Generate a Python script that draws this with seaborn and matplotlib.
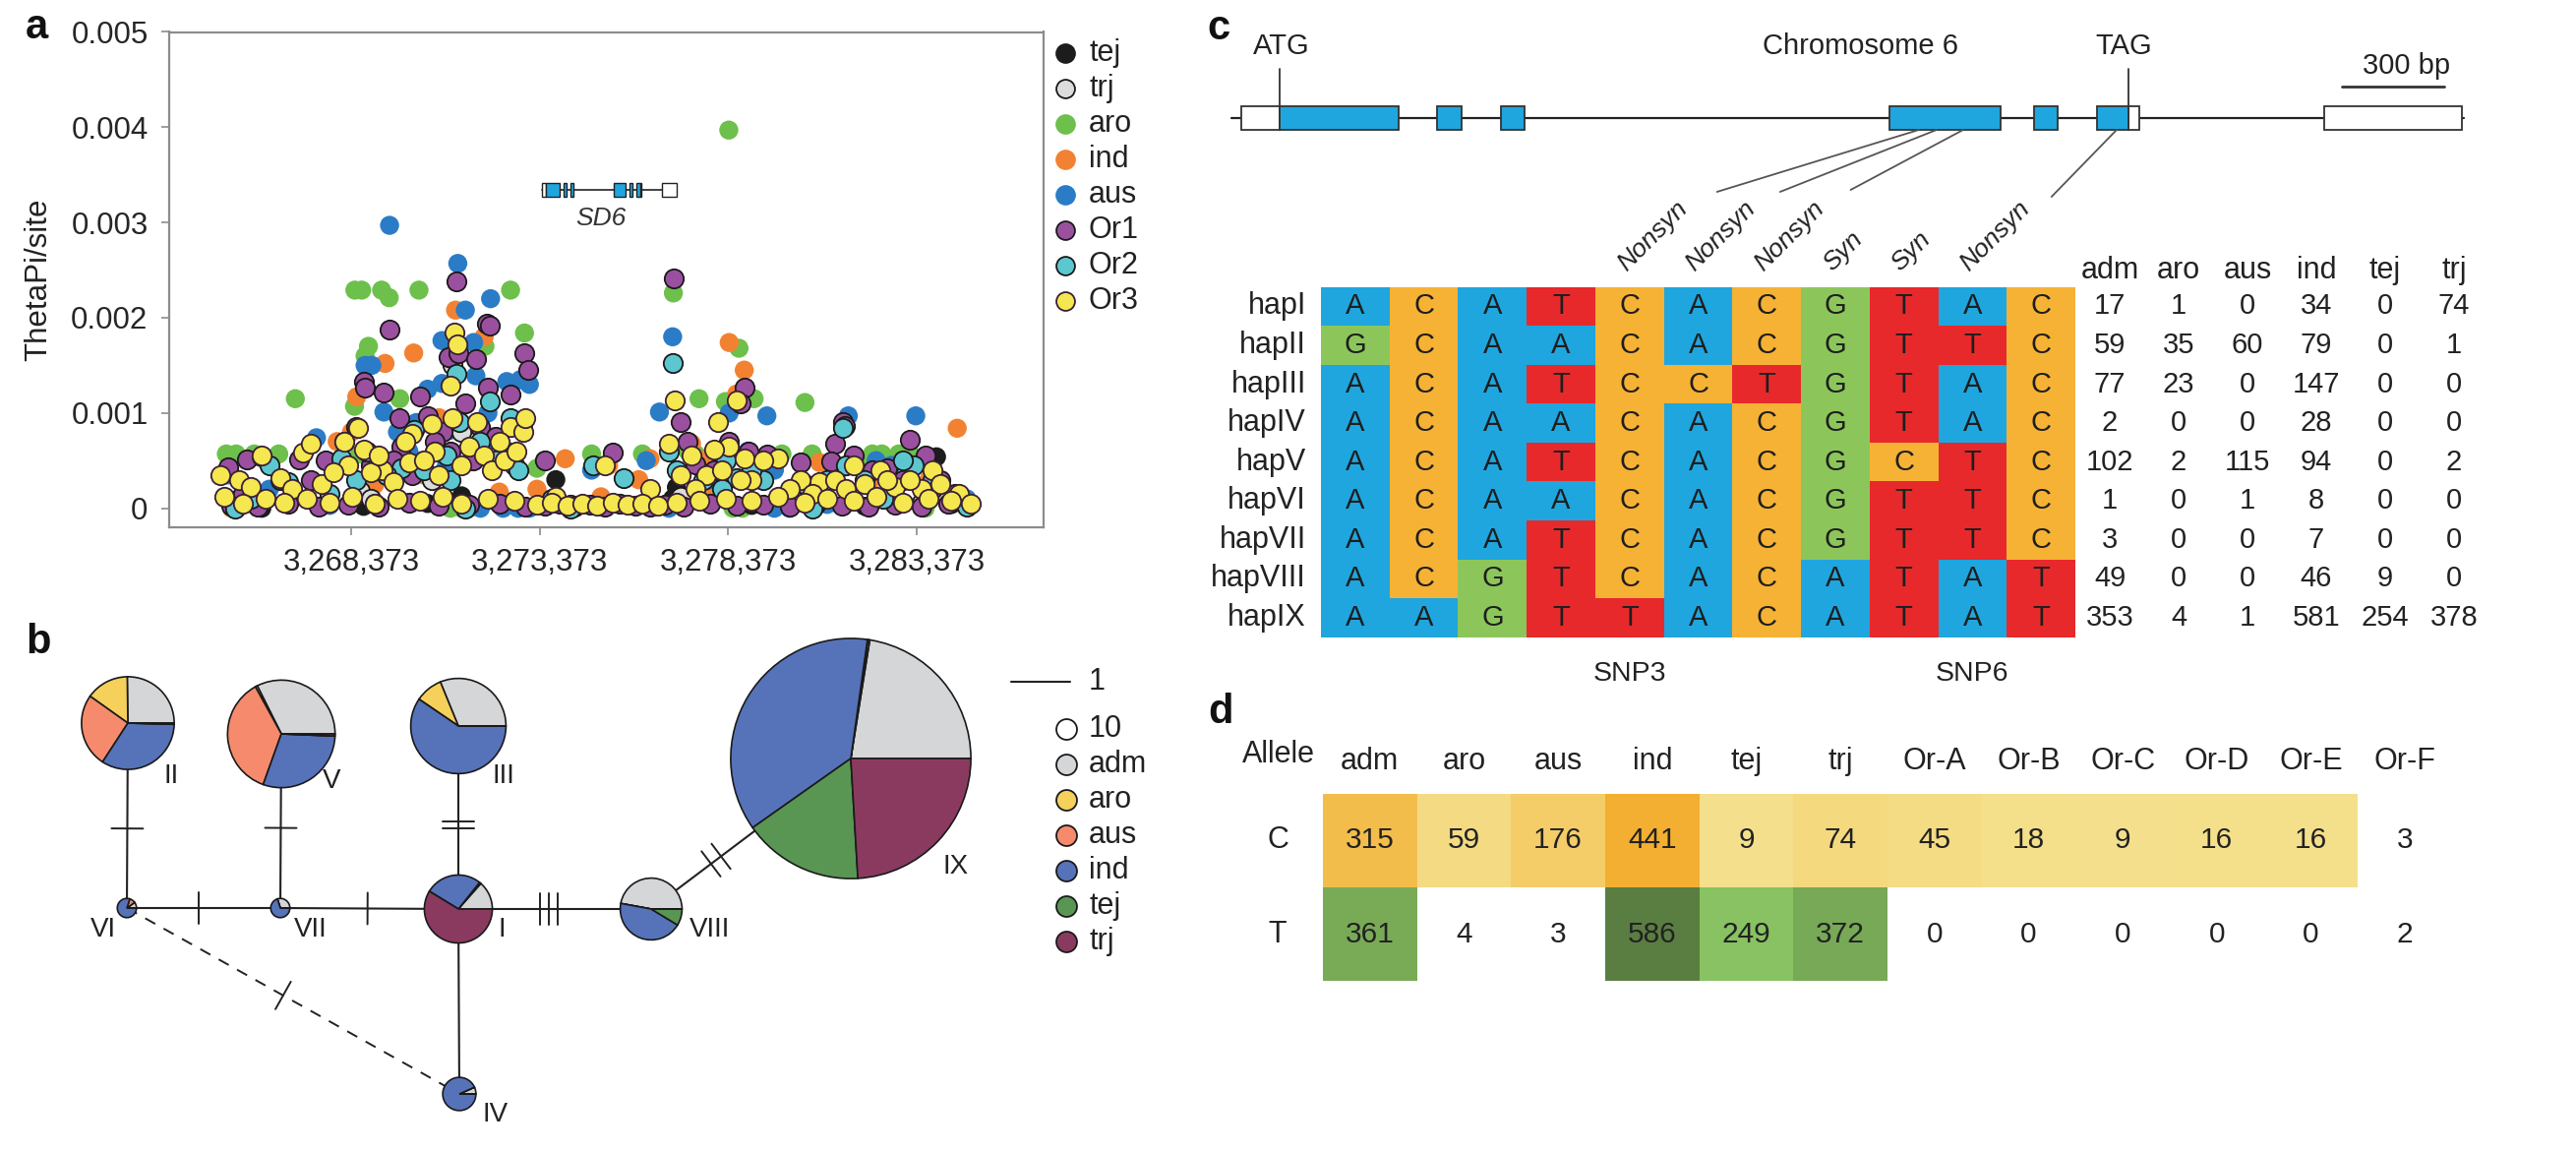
import numpy as np
import pandas as pd
import matplotlib
matplotlib.use("Agg")
import matplotlib.pyplot as plt
import seaborn as sns
from matplotlib.colors import ListedColormap, LinearSegmentedColormap
from matplotlib.patches import Rectangle

# ======================= DATA =======================
# ---- panel a : ThetaPi/site along chromosome 6 (position bp, value) ----
pop_order = ["tej", "trj", "aro", "ind", "aus", "Or1", "Or2", "Or3"]

tej_pts = [(3273800, 0.00030), (3277000, 0.00022), (3283900, 0.00054), (3271300, 0.00013),
           (3266000, 0.00000), (3270400, 0.00005), (3279000, 0.00003), (3282000, 0.00002),
           (3268700, 0.00002), (3276900, 0.00010), (3284300, 0.00004)]
trj_pts = [(3271050, 0.00150), (3271300, 0.00080), (3268600, 0.00018), (3268900, 0.00010),
           (3265300, 0.00008), (3274200, 0.00004), (3277100, 0.00012), (3270500, 0.00030),
           (3280700, 0.00004), (3283500, 0.00006), (3272700, 0.00045)]
aro_pts = [(3278390, 0.00397), (3268470, 0.00229), (3268650, 0.00229), (3269180, 0.00229),
           (3269380, 0.00221), (3270170, 0.00229), (3272600, 0.00229), (3276920, 0.00226),
           (3272970, 0.00184), (3278660, 0.00168), (3271920, 0.00170), (3268830, 0.00170),
           (3268740, 0.00160), (3266890, 0.00115), (3280410, 0.00111), (3277600, 0.00115),
           (3278300, 0.00112), (3279060, 0.00115), (3268460, 0.00107), (3269660, 0.00115),
           (3265060, 0.00057), (3265320, 0.00057), (3265800, 0.00057), (3266450, 0.00057),
           (3268600, 0.00057), (3270200, 0.00050), (3274750, 0.00057), (3275300, 0.00057),
           (3277500, 0.00057), (3278200, 0.00057), (3280600, 0.00057), (3282200, 0.00057),
           (3282450, 0.00057), (3282900, 0.00057), (3283200, 0.00057), (3273300, 0.00042),
           (3277300, 0.00060), (3271000, 0.00000), (3271300, 0.00000), (3271500, 0.00000),
           (3278500, 0.00000), (3278750, 0.00000), (3276700, 0.00002), (3283600, 0.00000),
           (3272700, 0.00055), (3276100, 0.00057), (3279800, 0.00057), (3281800, 0.00050)]
ind_pts = [(3271140, 0.00208), (3270030, 0.00163), (3271900, 0.00180), (3269270, 0.00152),
           (3278400, 0.00174), (3278800, 0.00145), (3268520, 0.00117), (3278600, 0.00120),
           (3284450, 0.00084), (3268380, 0.00080), (3273300, 0.00020), (3274050, 0.00052),
           (3276300, 0.00052), (3277400, 0.00068), (3275200, 0.00045), (3277800, 0.00012),
           (3265200, 0.00000), (3269000, 0.00025), (3270300, 0.00035), (3275000, 0.00012),
           (3276000, 0.00030), (3279200, 0.00050), (3280800, 0.00048), (3282100, 0.00025),
           (3283700, 0.00030), (3268000, 0.00070), (3271700, 0.00060), (3277900, 0.00055),
           (3272300, 0.00017), (3270700, 0.00095), (3272100, 0.00075)]
aus_pts = [(3269390, 0.00297), (3271200, 0.00257), (3272070, 0.00220), (3271400, 0.00208),
           (3270780, 0.00176), (3271620, 0.00174), (3276900, 0.00180), (3268740, 0.00150),
           (3268920, 0.00150), (3270400, 0.00125), (3270780, 0.00131), (3271680, 0.00139),
           (3272500, 0.00133), (3272860, 0.00135), (3273100, 0.00130), (3269240, 0.00101),
           (3276550, 0.00101), (3279400, 0.00097), (3281560, 0.00097), (3283350, 0.00097),
           (3278400, 0.00100), (3267450, 0.00074), (3271000, 0.00082), (3270100, 0.00090),
           (3272000, 0.00100), (3273500, 0.00050), (3274750, 0.00040), (3276200, 0.00050),
           (3279600, 0.00040), (3281300, 0.00040), (3282700, 0.00045), (3283800, 0.00040),
           (3266200, 0.00020), (3265100, 0.00035), (3271800, 0.00000), (3272400, 0.00000),
           (3272800, 0.00000), (3273100, 0.00000), (3279600, 0.00000), (3280000, 0.00000),
           (3281000, 0.00004), (3267800, 0.00003), (3276800, 0.00000), (3269900, 0.00060),
           (3270900, 0.00045), (3277900, 0.00030), (3269600, 0.00080), (3271900, 0.00065),
           (3278900, 0.00060), (3282300, 0.00050), (3284700, 0.00010)]
Or1_pts = [(3271150, 0.00238), (3276920, 0.00241), (3269380, 0.00188), (3271970, 0.00194),
           (3272060, 0.00192), (3272970, 0.00163), (3273080, 0.00145), (3270950, 0.00159),
           (3271220, 0.00163), (3271680, 0.00157), (3268700, 0.00133), (3268740, 0.00127),
           (3269240, 0.00121), (3270200, 0.00117), (3272000, 0.00127), (3272600, 0.00119),
           (3269660, 0.00095), (3270400, 0.00097), (3278800, 0.00127), (3278700, 0.00110),
           (3281420, 0.00090), (3281460, 0.00086), (3283200, 0.00072), (3281200, 0.00068),
           (3268500, 0.00085), (3270800, 0.00080), (3271800, 0.00085), (3272900, 0.00090),
           (3277100, 0.00090), (3278400, 0.00070),
           (3268200, 0.00070), (3268900, 0.00045), (3269700, 0.00065), (3270000, 0.00035),
           (3270600, 0.00070), (3271400, 0.00110), (3271600, 0.00050), (3272200, 0.00075),
           (3272500, 0.00060), (3266500, 0.00030), (3267300, 0.00030), (3277300, 0.00070),
           (3278000, 0.00040), (3278900, 0.00060), (3280500, 0.00020), (3281700, 0.00055),
           (3282200, 0.00040), (3283000, 0.00030), (3283800, 0.00020), (3284400, 0.00015),
           (3265500, 0.00015),
           (3265100, 0.00043), (3265600, 0.00051), (3266000, 0.00054), (3267000, 0.00051),
           (3267700, 0.00050), (3269500, 0.00050), (3271000, 0.00060), (3273500, 0.00050),
           (3275300, 0.00059), (3277500, 0.00046), (3279400, 0.00056), (3280300, 0.00048),
           (3281100, 0.00049), (3282600, 0.00042), (3283600, 0.00055), (3284000, 0.00030),
           (3265200, 0.00003), (3265900, 0.00002), (3266700, 0.00005), (3267500, 0.00002),
           (3268300, 0.00004), (3269100, 0.00002), (3269900, 0.00006), (3270700, 0.00003),
           (3271500, 0.00004), (3272300, 0.00005), (3273000, 0.00002), (3273500, 0.00003),
           (3273900, 0.00005), (3274300, 0.00002), (3274700, 0.00004), (3275100, 0.00002),
           (3275500, 0.00005), (3275900, 0.00003), (3276300, 0.00002), (3276700, 0.00004),
           (3277200, 0.00002), (3277900, 0.00005), (3278600, 0.00003), (3279300, 0.00004),
           (3280000, 0.00002), (3280700, 0.00005), (3281400, 0.00003), (3282100, 0.00002),
           (3282800, 0.00004), (3283500, 0.00002), (3284200, 0.00005), (3284700, 0.00003)]
Or2_pts = [(3276900, 0.00152), (3271150, 0.00141), (3272050, 0.00112), (3272600, 0.00095),
           (3272900, 0.00088), (3281420, 0.00084), (3270030, 0.00082), (3268100, 0.00052),
           (3269700, 0.00042), (3270300, 0.00040), (3271000, 0.00030), (3266700, 0.00027),
           (3265700, 0.00010), (3266200, 0.00045), (3267800, 0.00015), (3269000, 0.00005),
           (3272800, 0.00040), (3273700, 0.00010), (3274800, 0.00045), (3275600, 0.00032),
           (3276800, 0.00060), (3277700, 0.00030), (3278600, 0.00032), (3279300, 0.00030),
           (3280400, 0.00025), (3281500, 0.00045), (3283300, 0.00045), (3283800, 0.00030),
           (3284700, 0.00002), (3265300, 0.00000), (3271400, 0.00000), (3274200, 0.00000),
           (3278200, 0.00020), (3280600, 0.00000), (3282500, 0.00010),
           (3268500, 0.00030), (3269300, 0.00035), (3270600, 0.00060), (3271250, 0.00090),
           (3271800, 0.00070), (3272200, 0.00050), (3270900, 0.00055), (3268800, 0.00060),
           (3277000, 0.00040), (3278300, 0.00050), (3279000, 0.00040), (3282000, 0.00030),
           (3283000, 0.00050), (3281000, 0.00030)]
Or3_pts = [(3271100, 0.00184), (3271200, 0.00172), (3271000, 0.00129), (3276950, 0.00113),
           (3278600, 0.00113), (3278100, 0.00090), (3268560, 0.00084), (3272600, 0.00085),
           (3272950, 0.00080), (3270000, 0.00078), (3268200, 0.00070), (3269800, 0.00070),
           (3271500, 0.00065), (3272300, 0.00070), (3278400, 0.00065), (3266000, 0.00055),
           (3267100, 0.00058), (3267300, 0.00068), (3270600, 0.00060), (3276800, 0.00068),
           (3277400, 0.00055), (3278800, 0.00052), (3279700, 0.00052), (3280800, 0.00028),
           (3281700, 0.00045), (3282400, 0.00040), (3283800, 0.00040), (3264900, 0.00035),
           (3265400, 0.00030), (3266500, 0.00032), (3269200, 0.00040), (3273800, 0.00012),
           (3275100, 0.00045), (3276300, 0.00020), (3277800, 0.00035), (3279000, 0.00030),
           (3280300, 0.00030), (3281200, 0.00030), (3282800, 0.00022), (3283500, 0.00020),
           (3268300, 0.00045), (3268700, 0.00062), (3268900, 0.00038), (3269100, 0.00055),
           (3269500, 0.00028), (3269900, 0.00048), (3270300, 0.00050), (3270500, 0.00088),
           (3270700, 0.00035), (3271050, 0.00095), (3271300, 0.00045), (3271700, 0.00090),
           (3271900, 0.00055), (3272100, 0.00040), (3272450, 0.00050), (3272750, 0.00060),
           (3273000, 0.00095), (3267600, 0.00025), (3267900, 0.00038), (3266800, 0.00020),
           (3265700, 0.00022), (3277100, 0.00035), (3277500, 0.00020), (3278000, 0.00062),
           (3278200, 0.00040), (3278700, 0.00030), (3279300, 0.00050), (3280000, 0.00020),
           (3280600, 0.00015), (3281500, 0.00020), (3282000, 0.00025), (3282600, 0.00030),
           (3283200, 0.00030), (3284000, 0.00025), (3284500, 0.00015),
           (3265000, 0.00012), (3265500, 0.00005), (3266100, 0.00010), (3266600, 0.00006),
           (3267200, 0.00010), (3267800, 0.00006), (3268400, 0.00012), (3269000, 0.00005),
           (3269600, 0.00010), (3270200, 0.00008), (3270800, 0.00012), (3271300, 0.00005),
           (3272000, 0.00010), (3272700, 0.00008), (3273300, 0.00004), (3273700, 0.00006),
           (3274100, 0.00003), (3274500, 0.00005), (3274900, 0.00003), (3275300, 0.00006),
           (3275700, 0.00004), (3276100, 0.00005), (3276500, 0.00003), (3277000, 0.00006),
           (3277600, 0.00008), (3278300, 0.00010), (3279000, 0.00008), (3279700, 0.00012),
           (3280400, 0.00006), (3281000, 0.00010), (3281700, 0.00008), (3282300, 0.00012),
           (3283000, 0.00006), (3283700, 0.00010), (3284300, 0.00008), (3284800, 0.00005)]
x_ticks_bp = [3268373, 3273373, 3278373, 3283373]
y_ticks = [0, 0.001, 0.002, 0.003, 0.004, 0.005]
y_tick_labels = ["0", "0.001", "0.002", "0.003", "0.004", "0.005"]

# ---- panels b / c : haplotypes ----
hap_names = ["hapI", "hapII", "hapIII", "hapIV", "hapV", "hapVI", "hapVII", "hapVIII", "hapIX"]
hap_roman = ["I", "II", "III", "IV", "V", "VI", "VII", "VIII", "IX"]
count_pops = ["adm", "aro", "aus", "ind", "tej", "trj"]
hap_counts = [[17, 1, 0, 34, 0, 74],
              [59, 35, 60, 79, 0, 1],
              [77, 23, 0, 147, 0, 0],
              [2, 0, 0, 28, 0, 0],
              [102, 2, 115, 94, 0, 2],
              [1, 0, 1, 8, 0, 0],
              [3, 0, 0, 7, 0, 0],
              [49, 0, 0, 46, 9, 0],
              [353, 4, 1, 581, 254, 378]]
hap_seqs = ["ACATCACGTAC", "GCAACACGTTC", "ACATCCTGTAC", "ACAACACGTAC", "ACATCACGCTC",
            "ACAACACGTTC", "ACATCACGTTC", "ACGTCACATAT", "AAGTTACATAT"]
snp_effects = ["", "", "", "", "Nonsyn", "Nonsyn", "Nonsyn", "Syn", "Syn", "Nonsyn", ""]
snp_names = ["", "", "", "", "SNP3", "", "", "", "", "SNP6", ""]
# network edges (haplotype pairs) and number of mutation steps
net_edges = [("II", "VI", 1), ("V", "VII", 1), ("III", "I", 2), ("VI", "VII", 1),
             ("VII", "I", 1), ("I", "VIII", 3), ("VIII", "IX", 2), ("I", "IV", 0)]
net_dashed = [("VI", "IV", 1)]

# ---- gene model (bp from transcript start) ----
utr_blocks = [(0, 112), (2602, 2634), (3176, 3580)]
cds_blocks = [(112, 461), (574, 646), (761, 830), (1901, 2227), (2325, 2394), (2509, 2602)]
gene_span = (-29, 3585)
gene_start_chr = 3273430
linked_snp_bp = [1987, 2039, 2117, 2567]

# ---- panel d ----
d_groups = ["adm", "aro", "aus", "ind", "tej", "trj", "Or-A", "Or-B", "Or-C", "Or-D", "Or-E", "Or-F"]
allele_C = [315, 59, 176, 441, 9, 74, 45, 18, 9, 16, 16, 3]
allele_T = [361, 4, 3, 586, 249, 372, 0, 0, 0, 0, 0, 2]

# ======================= STYLE / LAYOUT =======================
sns.set_theme(style="white")
plt.rcParams["font.family"] = ["Liberation Sans", "DejaVu Sans"]
plt.rcParams["text.color"] = "#222222"

W, H = 2619, 1171
fig = plt.figure(figsize=(W / 100, H / 100), dpi=100)
PT = 72 / 100  # points per pixel
TXT = "#222222"


def pax(x0, y0, w, h):
    return fig.add_axes([x0 / W, 1 - (y0 + h) / H, w / W, h / H])


def ftext(x, y, s, **kw):
    fig.text(x / W, 1 - y / H, s, **kw)


face = {"tej": "#1c1c1c", "trj": "#dcdcdc", "aro": "#6dc04b", "ind": "#f28232",
        "aus": "#2b7cc6", "Or1": "#9b509f", "Or2": "#5dc7d0", "Or3": "#f4e74f"}
edge = {"tej": "none", "trj": "#1a1a1a", "aro": "none", "ind": "none", "aus": "none",
        "Or1": "#1a1a1a", "Or2": "#1a1a1a", "Or3": "#3b2036"}
pts = {"tej": tej_pts, "trj": trj_pts, "aro": aro_pts, "ind": ind_pts, "aus": aus_pts,
       "Or1": Or1_pts, "Or2": Or2_pts, "Or3": Or3_pts}

# ======================= PANEL A =======================
axA = pax(171.5, 32.5, 889, 503.5)
for g in ["aro", "ind", "aus", "tej", "trj", "Or1", "Or2", "Or3"]:
    df = pd.DataFrame(pts[g], columns=["pos", "theta"])
    sns.scatterplot(data=df, x="pos", y="theta", ax=axA, color=face[g],
                    edgecolor=edge[g], linewidth=(1.3 if edge[g] != "none" else 0),
                    s=195, legend=False, zorder=3)
axA.set_xlim(3263530, 3286728)
axA.set_ylim(-0.0002, 0.005)
axA.set_xticks(x_ticks_bp)
axA.set_xticklabels([f"{v:,}" for v in x_ticks_bp])
axA.set_yticks(y_ticks)
axA.set_yticklabels(y_tick_labels)
axA.set_xlabel("")
axA.set_ylabel("ThetaPi/site", fontsize=22.5, color=TXT)
axA.yaxis.set_label_coords(-0.132, 0.5)
for sp in axA.spines.values():
    sp.set_visible(True)
    sp.set_color("#8c8c8c")
    sp.set_linewidth(1.6)
axA.tick_params(axis="both", bottom=True, left=True, top=False, right=False,
                direction="out", length=8 * PT, width=1.2, color="#8c8c8c",
                labelsize=22.5, labelcolor="#262626", pad=13 * PT)

# SD6 gene icon
gy, gh = 0.00334, 0.00015
axA.plot([gene_start_chr + gene_span[0] + 29, gene_start_chr + gene_span[1] - 5], [gy, gy],
         color="#222", lw=1.2, zorder=2)
for s, e in utr_blocks:
    axA.add_patch(Rectangle((gene_start_chr + s, gy - gh / 2), e - s, gh, fc="white",
                            ec="#222", lw=1.0, zorder=3))
for s, e in cds_blocks:
    axA.add_patch(Rectangle((gene_start_chr + s, gy - gh / 2), e - s, gh, fc="#1fa6de",
                            ec="#222", lw=1.0, zorder=3))
axA.text(3274990, 0.00304, "SD6", style="italic", fontsize=19, ha="center", va="center",
         color="#333")

# ======================= OVERLAY (legends, network) =======================
ov = pax(0, 0, W, H)

# panel a legend
for i, g in enumerate(pop_order):
    y = 54 + 36 * i
    ov.scatter([1083], [y], s=185, color=face[g],
               edgecolor=(edge[g] if edge[g] != "none" else face[g]), linewidth=1.3, zorder=4)
    ov.text(1107, y, g, fontsize=22, ha="left", va="center", color=TXT)

# ======================= PANEL B : haplotype network =======================
pie_colors = {"adm": "#d5d6d8", "aro": "#f5d05a", "aus": "#f58b6c", "ind": "#5673ba",
              "tej": "#599653", "trj": "#8b3a5f"}
node_xy = {"I": (466, 924), "II": (130, 735), "III": (466, 738), "IV": (467, 1112),
           "V": (286, 746), "VI": (129, 923), "VII": (285, 923), "VIII": (662, 924),
           "IX": (865, 771)}
label_xy = {"I": (510, 945), "II": (174, 789), "III": (512, 789), "IV": (504, 1133),
            "V": (337, 794), "VI": (105, 945), "VII": (316, 945), "VIII": (722, 945),
            "IX": (972, 881)}
tick_frac = {("II", "VI"): [0.57], ("V", "VII"): [0.54], ("III", "I"): [0.52, 0.56],
             ("VI", "VII"): [0.47], ("VII", "I"): [0.49], ("I", "VIII"): [0.423, 0.469, 0.515],
             ("VIII", "IX"): [0.30, 0.35], ("VI", "IV"): [0.47]}
rscale = 3.08


def mut_ticks(p, q, fracs, L=32):
    dx, dy = q[0] - p[0], q[1] - p[1]
    n = np.hypot(dx, dy)
    nx, ny = -dy / n, dx / n
    for f in fracs:
        cx, cy = p[0] + dx * f, p[1] + dy * f
        ov.plot([cx - nx * L / 2, cx + nx * L / 2], [cy - ny * L / 2, cy + ny * L / 2],
                color="#222", lw=1.4, zorder=2)


for a, b, nmut in net_edges:
    p, q = node_xy[a], node_xy[b]
    ov.plot([p[0], q[0]], [p[1], q[1]], color="#222", lw=1.5, zorder=1)
    if nmut:
        mut_ticks(p, q, tick_frac[(a, b)])
for a, b, nmut in net_dashed:
    p, q = node_xy[a], node_xy[b]
    ov.plot([p[0], q[0]], [p[1], q[1]], color="#222", lw=1.4, dashes=(6, 5), zorder=1)
    mut_ticks(p, q, tick_frac[(a, b)])

for name, counts in zip(hap_roman, hap_counts):
    cx, cy = node_xy[name]
    r = rscale * np.sqrt(sum(counts))
    ov.pie(counts, colors=[pie_colors[p] for p in count_pops], radius=r, center=(cx, cy),
           startangle=0, counterclock=False, frame=True,
           wedgeprops=dict(edgecolor="#1a1a1a", linewidth=1.2, zorder=5))
    lx, ly = label_xy[name]
    ov.text(lx, ly, name, fontsize=20, ha="center", va="center", color=TXT)

# panel b legend
ov.plot([1028, 1088], [693, 693], color="#222", lw=1.5)
ov.text(1107, 693, "1", fontsize=22, ha="left", va="center", color=TXT)
leg_b = [("10", "white")] + [(p, pie_colors[p]) for p in count_pops]
for i, (lab, c) in enumerate(leg_b):
    y = 741 + 36 * i
    ov.scatter([1084], [y], s=228, color=c, edgecolor="#1a1a1a", linewidth=1.3, zorder=4)
    ov.text(1107, y, lab, fontsize=22, ha="left", va="center", color=TXT)

ov.set_xlim(0, W)
ov.set_ylim(H, 0)
ov.set_aspect("auto")
ov.axis("off")

# ======================= PANEL C : gene model =======================
ppb = 0.3467  # px per bp
gx0 = 1262
axG = pax(1230, 30, 1290, 180)
axG.set_xlim((1230 - gx0) / ppb, (2520 - gx0) / ppb)
axG.set_ylim(210, 30)
axG.axis("off")
axG.plot(gene_span, [120, 120], color="#222", lw=1.6, zorder=1)
for s, e in utr_blocks:
    axG.add_patch(Rectangle((s, 108), e - s, 24, fc="white", ec="#333", lw=1.3, zorder=2))
for s, e in cds_blocks:
    axG.add_patch(Rectangle((s, 108), e - s, 24, fc="#1fa6de", ec="#333", lw=1.3, zorder=2))
atg = cds_blocks[0][0]
tag = cds_blocks[-1][1]
axG.plot([atg, atg], [70, 108], color="#333", lw=1.3)
axG.plot([tag, tag], [70, 108], color="#333", lw=1.3)
axG.text(atg + 6, 47, "ATG", fontsize=21, ha="center", va="center", color=TXT)
axG.text(tag - 15, 47, "TAG", fontsize=21, ha="center", va="center", color=TXT)
axG.text(1817, 47, "Chromosome 6", fontsize=21, ha="center", va="center", color=TXT)
axG.plot([3228, 3528], [88, 88], color="#333", lw=2.0)
axG.text(3418, 67, "300 bp", fontsize=21, ha="center", va="center", color=TXT)
label_ends = [(1395, 195), (1580, 195), (1787, 193), (2376, 200)]
for sb, (ex, ey) in zip(linked_snp_bp, label_ends):
    axG.plot([sb, ex], [132, ey], color="#555", lw=1.3, clip_on=False)

# ======================= PANEL C : haplotype table =======================
bases = ["A", "C", "G", "T"]
base_colors = {"A": "#1fa6de", "C": "#f6b234", "G": "#8cc65b", "T": "#e8292b"}
codes = np.array([[bases.index(ch) for ch in s] for s in hap_seqs])
letters = np.array([list(s) for s in hap_seqs])
axC = pax(1343, 291.7, 767, 356)
sns.heatmap(codes, ax=axC, cmap=ListedColormap([base_colors[b] for b in bases]),
            vmin=-0.5, vmax=3.5, cbar=False, annot=letters, fmt="",
            annot_kws=dict(fontsize=21, color="#1e1e1e"),
            xticklabels=snp_names, yticklabels=hap_names, linewidths=0)
axC.set_yticklabels(hap_names, rotation=0)
axC.set_xticklabels(snp_names, rotation=0)
axC.tick_params(axis="y", length=0, pad=15 * PT, labelsize=22, labelcolor=TXT)
axC.tick_params(axis="x", length=0, pad=24 * PT, labelsize=20.5, labelcolor=TXT)
for j, lab in enumerate(snp_effects):
    if lab:
        axC.text(j + 0.5, -0.3, lab, rotation=45, rotation_mode="anchor", ha="left",
                 va="bottom", fontsize=19, style="italic", color=TXT, clip_on=False)

axT = pax(2110, 291.7, 420, 356)
sns.heatmap(np.array(hap_counts), ax=axT, cmap=ListedColormap(["white"]), cbar=False,
            annot=True, fmt="d", annot_kws=dict(fontsize=21, color=TXT),
            xticklabels=count_pops, yticklabels=False, linewidths=0)
axT.xaxis.tick_top()
axT.set_xticklabels(count_pops, rotation=0)
axT.tick_params(axis="x", length=0, pad=2 * PT, labelsize=22, labelcolor=TXT)

# ======================= PANEL D =======================
dmat = np.array([allele_C, allele_T])
low = dmat < 5
mask_C = np.ones_like(dmat, dtype=bool)
mask_C[0] = low[0]
mask_T = np.ones_like(dmat, dtype=bool)
mask_T[1] = low[1]
cmap_C = LinearSegmentedColormap.from_list("alleleC", ["#f4e18e", "#f3af31"])
cmap_T = LinearSegmentedColormap.from_list("alleleT", ["#88c262", "#5a7e41"])
axD = pax(1345, 807, 1148, 190)
common = dict(ax=axD, cbar=False, annot=True, fmt="d",
              annot_kws=dict(fontsize=21.5, color=TXT), xticklabels=d_groups,
              yticklabels=["C", "T"], linewidths=0)
sns.heatmap(dmat, mask=mask_C, cmap=cmap_C, vmin=0, vmax=441, **common)
sns.heatmap(dmat, mask=mask_T, cmap=cmap_T, vmin=249, vmax=586, **common)
sns.heatmap(dmat, mask=~low, cmap=ListedColormap(["white"]), **common)
axD.xaxis.tick_top()
axD.set_xticklabels(d_groups, rotation=0)
axD.set_yticklabels(["C", "T"], rotation=0)
for t in axD.get_yticklabels():
    t.set_ha("center")
axD.tick_params(axis="x", length=0, pad=18 * PT, labelsize=22, labelcolor=TXT)
axD.tick_params(axis="y", length=0, pad=46 * PT, labelsize=22, labelcolor=TXT)
ftext(1300, 782, "Allele", fontsize=22, ha="center", va="bottom", color=TXT)

# ======================= PANEL LETTERS =======================
for lab, (x, y) in {"a": (26, 39), "b": (26, 664), "c": (1227, 40), "d": (1228, 735)}.items():
    ftext(x, y, lab, fontsize=30, fontweight="bold", ha="left", va="baseline", color="#111")

fig.savefig("out.png", dpi=100)
